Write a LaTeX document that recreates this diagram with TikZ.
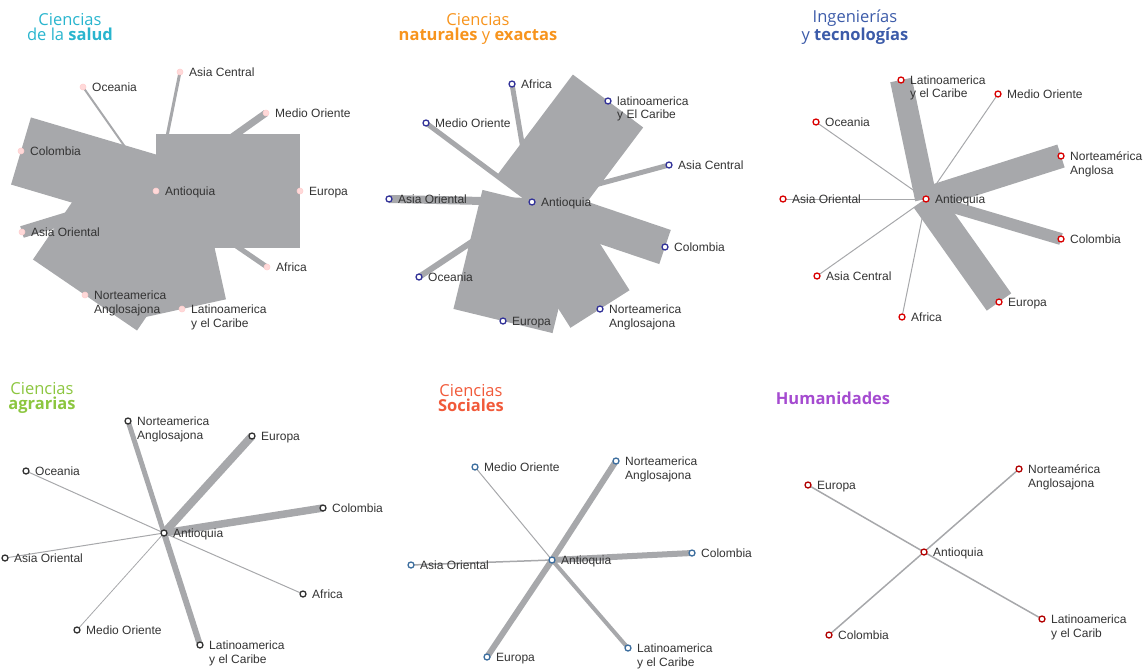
\documentclass[tikz,border=0pt]{standalone}
\usepackage{fontspec}
\setmainfont{Liberation Sans}
\newfontfamily\titlefont{Open Sans}
\usetikzlibrary{backgrounds}

\definecolor{linkgray}{HTML}{A7A8AB}
\definecolor{labelgray}{HTML}{333333}
\definecolor{salcol}{HTML}{29B5CE}
\definecolor{natcol}{HTML}{F7941D}
\definecolor{ingcol}{HTML}{3C5BA9}
\definecolor{agrcol}{HTML}{8CC63F}
\definecolor{soccol}{HTML}{F15A3A}
\definecolor{humcol}{HTML}{A54BD0}

\tikzset{
  dot/.style={circle,inner sep=0pt,minimum size=6pt,line width=1.3pt,fill=white},
  saldot/.style={dot,draw=pink!70!red!40,fill=pink!60,line width=0.6pt},
  place/.style={font=\fontsize{12}{13.5}\selectfont,text=labelgray,
    anchor=north west,inner sep=0pt,align=left},
  title/.style={font=\titlefont\fontsize{16.5}{15}\selectfont,align=center,inner sep=0pt},
  tie/.style={draw=linkgray,line width=#1,line cap=butt}
}

% dot node + its label
\newcommand{\region}[4]{%
  \node[#3] (#1) at (#2) {};
  \node[place] (#1-t) at ([xshift=9pt,yshift=4.4pt]#1.center) {#4};}

\begin{document}
\begin{tikzpicture}[x=1pt,y=-1pt]
  \useasboundingbox (0,0) rectangle (1146,670);

  % titles
  \node[title,text=salcol] (salT) at (70,27) {Ciencias\\de la \textbf{salud}};
  \node[title,text=natcol] (natT) at (478,29) {Ciencias\\\textbf{naturales} y \textbf{exactas}};
  \node[title,text=ingcol] (ingT) at (855,27) {Ingenierías\\y \textbf{tecnologías}};
  \node[title,text=agrcol] (agrT) at (42,398) {Ciencias\\\textbf{agrarias}};
  \node[title,text=soccol] (socT) at (471,398) {Ciencias\\\textbf{Sociales}};
  \node[title,text=humcol] (humT) at (833,398) {\textbf{Humanidades}};

  % Ciencias de la salud
  \region{salAnt}{156,191}{saldot}{Antioquia}
  \region{salAce}{180,72}{saldot}{Asia Central}
  \region{salOce}{83,87}{saldot}{Oceania}
  \region{salMed}{266,113}{saldot}{Medio Oriente}
  \region{salCol}{21,151}{saldot}{Colombia}
  \region{salEur}{300,191}{saldot}{Europa}
  \region{salAor}{22,232}{saldot}{Asia Oriental}
  \region{salAfr}{267,267}{saldot}{Africa}
  \region{salNor}{85,295}{saldot}{Norteamerica\\Anglosajona}
  \region{salLat}{182,309}{saldot}{Latinoamerica\\y el Caribe}

  % Ciencias naturales y exactas
  \region{natAnt}{532,202}{dot,draw=blue!50!black!80}{Antioquia}
  \region{natAfr}{512,84}{dot,draw=blue!50!black!80}{Africa}
  \region{natLat}{608,101}{dot,draw=blue!50!black!80}{latinoamerica\\y El Caribe}
  \region{natMed}{426,123}{dot,draw=blue!50!black!80}{Medio Oriente}
  \region{natAce}{669,165}{dot,draw=blue!50!black!80}{Asia Central}
  \region{natAor}{389,199}{dot,draw=blue!50!black!80}{Asia Oriental}
  \region{natCol}{665,247}{dot,draw=blue!50!black!80}{Colombia}
  \region{natOce}{419,277}{dot,draw=blue!50!black!80}{Oceania}
  \region{natEur}{503,321}{dot,draw=blue!50!black!80}{Europa}
  \region{natNor}{600,309}{dot,draw=blue!50!black!80}{Norteamerica\\Anglosajona}

  % Ingenierias y tecnologias
  \region{ingAnt}{926,199}{dot,draw=red!85!black}{Antioquia}
  \region{ingLat}{901,80}{dot,draw=red!85!black}{Latinoamerica\\y el Caribe}
  \region{ingMed}{998,94}{dot,draw=red!85!black}{Medio Oriente}
  \region{ingOce}{816,122}{dot,draw=red!85!black}{Oceania}
  \region{ingNor}{1061,156}{dot,draw=red!85!black}{Norteamérica\\Anglosa}
  \region{ingAor}{783,199}{dot,draw=red!85!black}{Asia Oriental}
  \region{ingCol}{1061,239}{dot,draw=red!85!black}{Colombia}
  \region{ingAce}{817,276}{dot,draw=red!85!black}{Asia Central}
  \region{ingEur}{999,302}{dot,draw=red!85!black}{Europa}
  \region{ingAfr}{902,317}{dot,draw=red!85!black}{Africa}

  % Ciencias agrarias
  \region{agrAnt}{164,533}{dot,draw=black!80}{Antioquia}
  \region{agrNor}{128,421}{dot,draw=black!80}{Norteamerica\\Anglosajona}
  \region{agrEur}{252,436}{dot,draw=black!80}{Europa}
  \region{agrOce}{26,471}{dot,draw=black!80}{Oceania}
  \region{agrCol}{323,508}{dot,draw=black!80}{Colombia}
  \region{agrAor}{5,558}{dot,draw=black!80}{Asia Oriental}
  \region{agrAfr}{303,594}{dot,draw=black!80}{Africa}
  \region{agrMed}{77,630}{dot,draw=black!80}{Medio Oriente}
  \region{agrLat}{200,645}{dot,draw=black!80}{Latinoamerica\\y el Caribe}

  % Ciencias sociales
  \region{socAnt}{552,560}{dot,draw=cyan!60!blue!70!black}{Antioquia}
  \region{socMed}{475,467}{dot,draw=cyan!60!blue!70!black}{Medio Oriente}
  \region{socNor}{616,461}{dot,draw=cyan!60!blue!70!black}{Norteamerica\\Anglosajona}
  \region{socAor}{411,565}{dot,draw=cyan!60!blue!70!black}{Asia Oriental}
  \region{socCol}{692,553}{dot,draw=cyan!60!blue!70!black}{Colombia}
  \region{socEur}{487,657}{dot,draw=cyan!60!blue!70!black}{Europa}
  \region{socLat}{628,648}{dot,draw=cyan!60!blue!70!black}{Latinoamerica\\y el Caribe}

  % Humanidades
  \region{humAnt}{924,552}{dot,draw=red!70!black}{Antioquia}
  \region{humEur}{808,485}{dot,draw=red!70!black}{Europa}
  \region{humNor}{1019,469}{dot,draw=red!70!black}{Norteamérica\\Anglosajona}
  \region{humCol}{829,635}{dot,draw=red!70!black}{Colombia}
  \region{humLat}{1042,619}{dot,draw=red!70!black}{Latinoamerica\\y el Carib}

  % links, widths = volume
  \begin{scope}[on background layer]
    \foreach \dst/\w in {Eur/114,Col/70,Nor/126,Lat/90,Aor/12,Oce/2,Ace/3,Med/7,Afr/5}
      \draw[tie=\w pt] (salAnt.center) -- (sal\dst.center);
    \foreach \dst/\w in {Lat/88,Eur/102,Nor/70,Col/36,Aor/8,Med/5,Afr/5,Ace/5,Oce/6}
      \draw[tie=\w pt] (natAnt.center) -- (nat\dst.center);
    \foreach \dst/\w in {Lat/22,Nor/24,Col/12,Eur/30,Med/1,Oce/1,Aor/1,Ace/1,Afr/1}
      \draw[tie=\w pt] (ingAnt.center) -- (ing\dst.center);
    \foreach \dst/\w in {Nor/5,Eur/8,Col/7.5,Lat/6,Oce/1,Aor/1,Med/0.8,Afr/1}
      \draw[tie=\w pt] (agrAnt.center) -- (agr\dst.center);
    \foreach \dst/\w in {Nor/6,Eur/6,Col/6,Lat/4,Med/1,Aor/1.5}
      \draw[tie=\w pt] (socAnt.center) -- (soc\dst.center);
    \foreach \dst in {Eur,Nor,Col,Lat}
      \draw[tie=1.5pt] (humAnt.center) -- (hum\dst.center);
  \end{scope}
\end{tikzpicture}
\end{document}
